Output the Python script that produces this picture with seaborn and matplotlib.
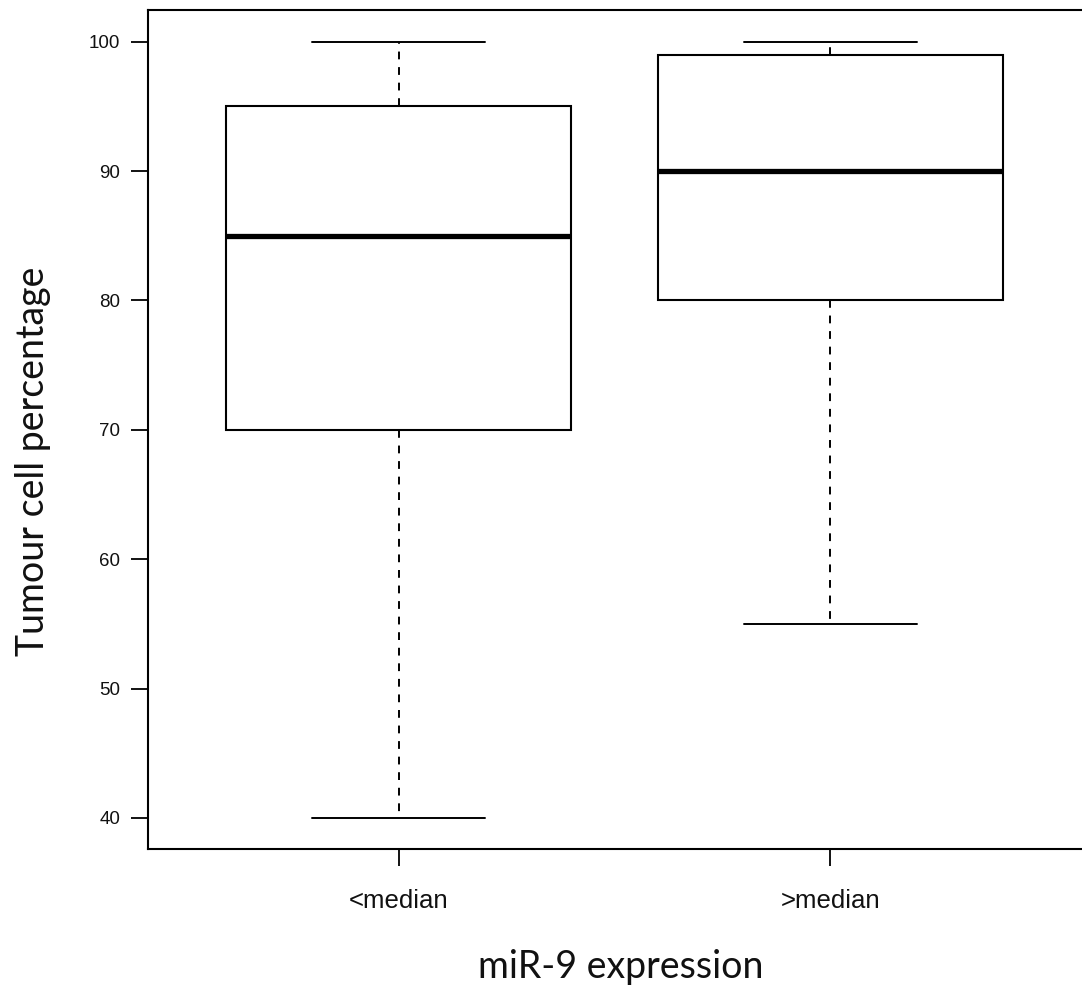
import matplotlib
matplotlib.use("Agg")
import matplotlib.pyplot as plt
import seaborn as sns
import pandas as pd

# Five-number summaries of tumour cell percentage per miR-9 expression group
group_labels = ["<median", ">median"]
below_median = [40, 70, 85, 95, 100]
above_median = [55, 80, 90, 99, 100]

df = pd.DataFrame({
    "group": [group_labels[0]] * len(below_median) + [group_labels[1]] * len(above_median),
    "value": below_median + above_median,
})

sns.set_theme(style="white")
plt.rcParams["font.family"] = ["Liberation Sans", "DejaVu Sans"]

W, H, DPI = 1082, 985, 100
fig = plt.figure(figsize=(W / DPI, H / DPI), dpi=DPI)
ax = fig.add_axes([148 / W, (H - 849) / H, 933 / W, 839 / H])

sns.boxplot(
    data=df, x="group", y="value", order=group_labels,
    color="white", linecolor="black", linewidth=1.5, width=0.8,
    whis=1.5, showfliers=False, saturation=1, ax=ax,
    whiskerprops=dict(linestyle=(0, (4, 4)), linewidth=1.4),
    medianprops=dict(linewidth=3.8, solid_capstyle="butt"),
    capprops=dict(linewidth=1.4),
    boxprops=dict(linewidth=1.5),
)

ax.set_xlim(-0.58, 1.58)
ax.set_ylim(37.6, 102.45)
ax.set_yticks([40, 50, 60, 70, 80, 90, 100])

for side in ["left", "bottom", "top"]:
    ax.spines[side].set_color("black")
    ax.spines[side].set_linewidth(1.5)
ax.spines["right"].set_visible(False)

ax.tick_params(axis="y", which="major", left=True, length=12, width=1.3,
               color="black", labelsize=13.5, pad=8, labelcolor="#111111")
ax.tick_params(axis="x", which="major", bottom=True, length=12, width=1.3,
               color="black", labelsize=18.5, pad=17, labelcolor="#111111")
ax.grid(False)

ax.set_xlabel("miR-9 expression", family=["Lato", "DejaVu Sans"], fontsize=27,
              labelpad=26, color="#111111")
ax.set_ylabel("Tumour cell percentage", family=["Lato", "DejaVu Sans"], fontsize=27,
              labelpad=27, color="#111111")
ax.xaxis.label.set_x(0.507)
ax.yaxis.label.set_y(0.4625)

fig.savefig("out.png", dpi=DPI, facecolor="white")
